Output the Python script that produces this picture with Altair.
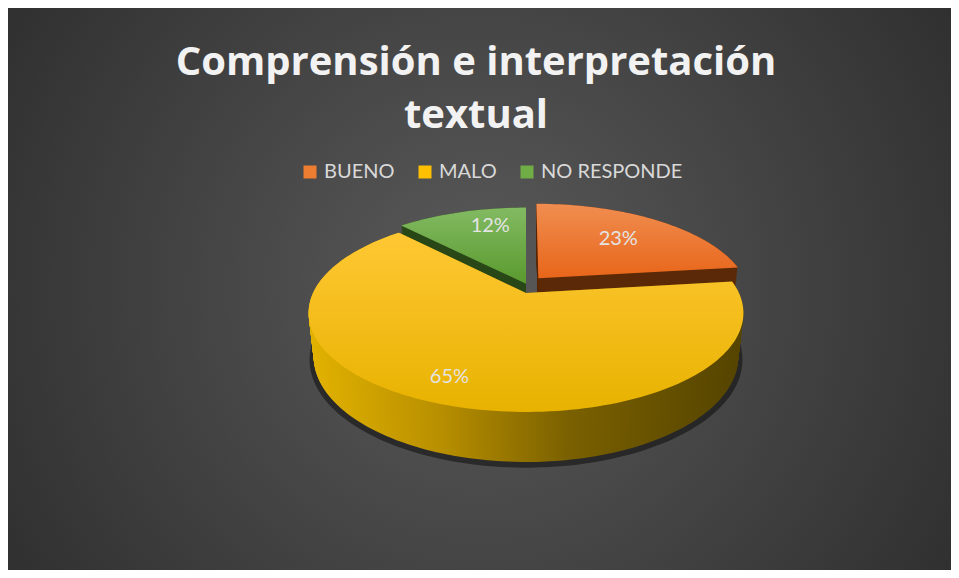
import numpy as np
import pandas as pd
import altair as alt

# ---- data ----
categorias = ["BUENO", "MALO", "NO RESPONDE"]
porcentajes = [23, 65, 12]
etiquetas = ["23%", "65%", "12%"]
titulo = ["Comprensión e interpretación", "textual"]

# ---- styles / layout ----
W, H = 943, 562
colores = ["#ED7D31", "#FFC000", "#70AD47"]
top_grad = {
    "BUENO": ("#F08D50", "#E8661A"),
    "MALO": ("#FFC834", "#E8B200"),
    "NO RESPONDE": ("#82BA62", "#5A9A2E"),
}
side_fill = {
    "BUENO": "#5C2A08",
    "NO RESPONDE": "#2A4818",
    "MALO": {"gradient": "linear", "x1": 0, "y1": 0, "x2": 1, "y2": 0,
             "stops": [{"offset": 0, "color": "#E2B200"},
                       {"offset": 0.3, "color": "#B88F00"},
                       {"offset": 0.6, "color": "#7A6000"},
                       {"offset": 1, "color": "#554400"}]},
}
# slice lift (explosion) in pie-radius units: (sideways, backwards)
explode = {"BUENO": (0.06, 0.16), "MALO": (0.0, 0.0), "NO RESPONDE": (0.0, 0.10)}
# label placement: (fraction along the slice, radius)
lab_pos = {"BUENO": (0.5, 0.65), "MALO": (0.51, 0.81), "NO RESPONDE": (0.65, 0.75)}

# perspective projection parameters for the 3D pie
CX, CY = 518, 285
F, S = 944.0, 0.4458
C = float(np.sqrt(1 - S * S))
D = 4.433
DEPTH = 0.23


def proj(X, Y, Z):
    z = D + Y * C - Z * S
    return CX + F * X / z, CY - F * (Y * S + Z * C) / z


total = float(sum(porcentajes))
fr = np.array(porcentajes) / total
ends = np.cumsum(fr)
starts = ends - fr


def slice_poly(i, Z, r=1.0):
    cat = categorias[i]
    a0, a1 = starts[i] * 2 * np.pi, ends[i] * 2 * np.pi
    ox, oy = explode[cat]
    n = max(10, int(fr[i] * 240))
    ang = np.linspace(a0, a1, n)
    X = np.concatenate([[ox], ox + r * np.sin(ang)])
    Y = np.concatenate([[oy], oy + r * np.cos(ang)])
    return proj(X, Y, Z)


def stack_df(i, levels, r=1.0, tag="s"):
    rows = []
    for k, Z in enumerate(levels):
        px, py = slice_poly(i, Z, r)
        for t, (x, y) in enumerate(zip(px, py)):
            rows.append({"grupo": f"{tag}{i}_{k:03d}", "t": t, "px": x, "py": y,
                         "categoria": categorias[i]})
    return pd.DataFrame(rows)


xs = alt.Scale(domain=[0, W])
ys = alt.Scale(domain=[0, H], reverse=True)


def poly_layer(df, fill, opacity=1.0):
    return alt.Chart(df).mark_line(filled=True, color=fill, opacity=opacity,
                                   strokeOpacity=0).encode(
        x=alt.X("px:Q", scale=xs, axis=None),
        y=alt.Y("py:Q", scale=ys, axis=None),
        detail="grupo:N",
        order=alt.Order("t:Q"),
    )


layers = []

# background
bg = alt.Chart(alt.Data(values=[{}])).mark_rect(
    color={"gradient": "radial", "x1": 0.5, "y1": 0.5, "r1": 0,
           "x2": 0.5, "y2": 0.5, "r2": 0.72,
           "stops": [{"offset": 0, "color": "#5A5A5A"},
                     {"offset": 1, "color": "#262626"}]}
).encode(x=alt.value(0), x2=alt.value(W), y=alt.value(0), y2=alt.value(H))
layers.append(bg)

# shadow under the pie
sh = pd.concat([stack_df(i, [-DEPTH - 0.012], r=1.02, tag="sh") for i in range(3)])
layers.append(poly_layer(sh, "#000000", opacity=0.45))

levels = np.linspace(-DEPTH, 0, 52)
# back slices sides first, then front slice side
for i in [0, 2, 1]:
    layers.append(poly_layer(stack_df(i, levels), side_fill[categorias[i]]))

# top faces
for i in range(3):
    c0, c1 = top_grad[categorias[i]]
    g = {"gradient": "linear", "x1": 0, "y1": 0, "x2": 0, "y2": 1,
         "stops": [{"offset": 0, "color": c0}, {"offset": 1, "color": c1}]}
    layers.append(poly_layer(stack_df(i, [0.0], tag="top"), g))

# data labels
lab_rows = []
for i in range(3):
    cat = categorias[i]
    f, r = lab_pos[cat]
    a = (starts[i] + f * fr[i]) * 2 * np.pi
    ox, oy = explode[cat]
    x, y = proj(ox + r * np.sin(a), oy + r * np.cos(a), 0.0)
    lab_rows.append({"categoria": cat, "etiqueta": etiquetas[i], "px": x, "py": y})
labdf = pd.DataFrame(lab_rows)

labels = alt.Chart(labdf).mark_text(font="Lato", fontSize=20, color="#E4E4E4",
                                    baseline="middle", align="center").encode(
    x=alt.X("px:Q", scale=xs, axis=None),
    y=alt.Y("py:Q", scale=ys, axis=None),
    text="etiqueta:N",
)
layers.append(labels)

# legend (through a colour scale)
leg = alt.Chart(labdf).mark_point(filled=True, opacity=0, shape="square").encode(
    x=alt.X("px:Q", scale=xs, axis=None),
    y=alt.Y("py:Q", scale=ys, axis=None),
    color=alt.Color("categoria:N", scale=alt.Scale(domain=categorias, range=colores),
                    legend=alt.Legend(title=None, orient="none", legendX=292, legendY=154,
                                      direction="horizontal", symbolType="square",
                                      symbolSize=169, symbolOpacity=1, symbolStrokeWidth=0,
                                      labelFont="Lato", labelFontSize=20,
                                      labelColor="#D9D9D9", labelOffset=4,
                                      columnPadding=20)),
)
layers.append(leg)

# title
tdf = pd.DataFrame({"linea": titulo, "ty": [67, 120]})
layers.append(
    alt.Chart(tdf).mark_text(font="Open Sans", fontSize=40, fontWeight="bold",
                             color="#F2F2F2", align="center",
                             baseline="alphabetic").encode(
        x=alt.value(468),
        y=alt.Y("ty:Q", scale=ys, axis=None),
        text="linea:N",
    )
)

chart = alt.layer(*layers).properties(width=W, height=H, padding=0).configure_view(
    strokeOpacity=0)

chart.save("out.html", embed_options={"renderer": "svg", "actions": False})
